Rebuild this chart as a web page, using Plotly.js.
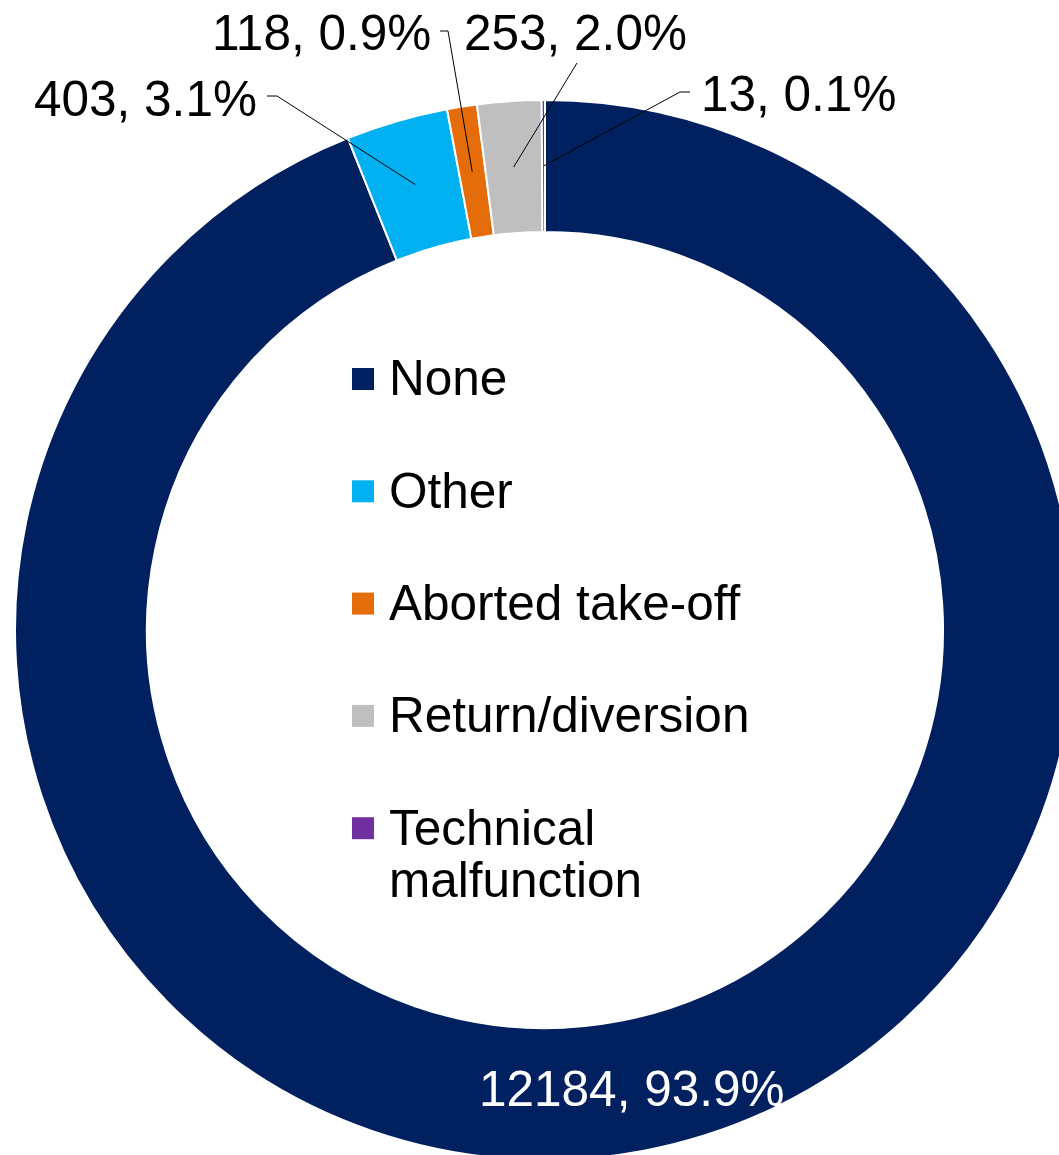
<!DOCTYPE html>
<html>
<head>
<meta charset="utf-8">
<script src="https://cdn.plot.ly/plotly-3.0.1.min.js"></script>
<style>
  html, body { margin: 0; padding: 0; overflow: hidden; background: #ffffff; }
  #chart { width: 1100px; height: 1180px; }
</style>
</head>
<body>
<div id="chart"></div>
<script>
// ---- data ----
const categories = ['None', 'Other', 'Aborted take-off', 'Return/diversion', 'Technical malfunction'];
const counts = [12184, 403, 118, 253, 13];
const colors = ['#002060', '#00B0F0', '#E46C0A', '#BFBFBF', '#7030A0'];

// ---- layout geometry (pixels) ----
const W = 1100, H = 1180;
const CX = 545, CY = 630, R = 530, HOLE = 0.751;
const FONT = 'Liberation Sans, Arial, sans-serif';
const FS = 49.5;

const px = x => x / W;
const py = y => 1 - y / H;

const total = counts.reduce((a, b) => a + b, 0);
const labelText = v => v + ', ' + (v / total * 100).toFixed(1) + '%';

// mid-angle point of each slice (clockwise from 12 o'clock), at ring middle radius
const rMid = R * (1 + HOLE) / 2;
let cum = 0;
const midPts = counts.map(v => {
  const a = (cum + v / 2) / total * 2 * Math.PI;
  cum += v;
  return [CX + rMid * Math.sin(a), CY - rMid * Math.cos(a)];
});

// label placements: [center x, center y, leader start, elbow] (pixels)
const labelPlace = [
  {x: 632, y: 1088, color: '#ffffff', leader: null},
  {x: 145, y: 98,  color: '#000000', leader: [[267, 96], [277, 96]]},
  {x: 321, y: 33,  color: '#000000', leader: [[440, 31], [448, 31]]},
  {x: 575, y: 33,  color: '#000000', leader: [[577, 63]]},
  {x: 798, y: 94,  color: '#000000', leader: [[690, 92], [680, 92]]}
];

const annotations = [];
const shapes = [];

counts.forEach((v, i) => {
  const p = labelPlace[i];
  annotations.push({
    xref: 'paper', yref: 'paper', x: px(p.x), y: py(p.y),
    xanchor: 'center', yanchor: 'middle', showarrow: false,
    text: labelText(v), font: {family: FONT, size: FS, color: p.color}
  });
  if (p.leader) {
    const pts = p.leader.concat([midPts[i]]);
    const d = pts.map((q, k) => (k === 0 ? 'M' : 'L') + px(q[0]) + ',' + py(q[1])).join(' ');
    shapes.push({type: 'path', xref: 'paper', yref: 'paper', path: d,
      line: {color: '#000000', width: 1}});
  }
});

// legend inside the hole
const LEG_X = 352, LEG_Y0 = 379, LEG_STEP = 112.3, SQ = 22, LINE_H = 52;
categories.forEach((c, i) => {
  const yc = LEG_Y0 + i * LEG_STEP;
  shapes.push({type: 'rect', xref: 'paper', yref: 'paper',
    x0: px(LEG_X), x1: px(LEG_X + SQ), y0: py(yc - SQ / 2), y1: py(yc + SQ / 2),
    fillcolor: colors[i], line: {width: 0}});
  const lines = c.length > 18 ? c.split(' ') : [c];
  lines.forEach((ln, k) => {
    annotations.push({
      xref: 'paper', yref: 'paper', x: px(LEG_X + 35), y: py(yc - 1 + k * LINE_H),
      xanchor: 'left', yanchor: 'middle', showarrow: false,
      text: ln, font: {family: FONT, size: FS, color: '#000000'}
    });
  });
});

const trace = {
  type: 'pie',
  labels: categories,
  values: counts,
  sort: false,
  direction: 'clockwise',
  rotation: 0,
  hole: HOLE,
  textinfo: 'none',
  hoverinfo: 'label+value+percent',
  showlegend: false,
  marker: {colors: colors, line: {color: '#ffffff', width: 2}},
  domain: {x: [px(CX - R), px(CX + R)], y: [py(CY + R), py(CY - R)]}
};

const layout = {
  width: W, height: H,
  margin: {l: 0, r: 0, t: 0, b: 0},
  paper_bgcolor: '#ffffff',
  showlegend: false,
  annotations: annotations,
  shapes: shapes,
  font: {family: FONT}
};

Plotly.newPlot('chart', [trace], layout, {displayModeBar: false, staticPlot: true});
</script>
</body>
</html>
